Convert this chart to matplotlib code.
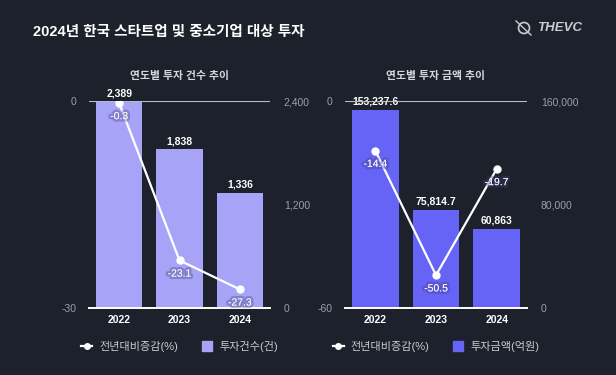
import matplotlib.pyplot as plt
import matplotlib.patheffects as pe
from matplotlib.lines import Line2D
from matplotlib.patches import Ellipse

plt.rcParams['font.family'] = ['Liberation Sans', 'Noto Sans CJK KR']
plt.rcParams['axes.unicode_minus'] = False

years = ['2022', '2023', '2024']
count = [2389, 1838, 1336]
count_chg = [-0.3, -23.1, -27.3]
amount = [153237.6, 75814.7, 60863]
amount_chg = [-14.4, -50.5, -19.7]

BG = '#1c212b'
TICK = '#9a9fa8'


def fmt(v):
    return f"{v:,.0f}" if float(v).is_integer() else f"{v:,.1f}"


def panel(rect, title, bars, chg, bar_color, bar_lim, bar_ticks, chg_lim, bar_name):
    ax = fig.add_axes(rect)
    axb = ax.twinx()
    ax.set_zorder(axb.get_zorder() + 1)
    ax.patch.set_visible(False)
    axb.set_facecolor(BG)
    x = range(len(years))

    axb.bar(x, bars, width=0.77, color=bar_color, zorder=2)
    for i, v in enumerate(bars):
        axb.annotate(fmt(v), (i, v), xytext=(0, 2.5), textcoords='offset points',
                     ha='center', va='bottom', color='white', fontsize=7.5,
                     fontweight='bold')
    axb.set_ylim(*bar_lim)
    axb.set_yticks(bar_ticks)
    axb.set_yticklabels([f"{t:,}" for t in bar_ticks])

    ax.plot(x, chg, color='white', lw=1.6, marker='o', ms=5, zorder=3)
    for i, v in enumerate(chg):
        ax.annotate(f"{v}", (i, v), xytext=(0, -9.5), textcoords='offset points',
                    ha='center', va='center', color='white', fontsize=7.5,
                    path_effects=[pe.withStroke(linewidth=3.5, foreground=(0.25, 0.24, 0.5, 0.35))])
    ax.set_ylim(*chg_lim)
    ax.set_yticks([chg_lim[0], 0])
    ax.set_xlim(-0.5, 2.5)
    ax.set_xticks(list(x))
    ax.set_xticklabels(years, color='white', fontsize=7.5, fontweight='bold')
    ax.axhline(0, color='#b8bcc4', lw=0.8, zorder=1)

    for a in (ax, axb):
        for s in a.spines.values():
            s.set_visible(False)
        a.tick_params(length=0, colors=TICK, labelsize=7.5)
    ax.tick_params(axis='y', pad=9)
    axb.tick_params(axis='y', pad=10)
    ax.tick_params(axis='x', pad=5, colors='white')
    ax.spines['bottom'].set_visible(True)
    ax.spines['bottom'].set_color('white')
    ax.spines['bottom'].set_linewidth(1.4)

    ax.set_title(title, color='#d4d7dc', fontsize=7.8, fontweight='bold', pad=16)

    handles = [
        Line2D([], [], color='white', lw=1.6, marker='o', ms=4),
        Line2D([], [], color=bar_color, lw=0, marker='s', ms=7),
    ]
    ax.legend(handles, ['전년대비증감(%)', bar_name], loc='upper center',
              bbox_to_anchor=(0.5, -0.11), ncol=2, frameon=False,
              fontsize=8, labelcolor='#c8ccd2', handlelength=1.0,
              handletextpad=0.6, columnspacing=2.1)
    return ax


fig = plt.figure(figsize=(6.16, 3.75), dpi=100, facecolor=BG)

panel([89 / 616, 1 - 308 / 375, 181 / 616, 207 / 375], '연도별 투자 건수 추이',
      count, count_chg, '#a7a4f8', (0, 2400), [0, 1200, 2400], (-30, 0), '투자건수(건)')
panel([345 / 616, 1 - 308 / 375, 182 / 616, 207 / 375], '연도별 투자 금액 추이',
      amount, amount_chg, '#6663f7', (0, 160000), [0, 80000, 160000], (-60, 0), '투자금액(억원)')

fig.text(33 / 616, 1 - 32 / 375, '2024년 한국 스타트업 및 중소기업 대상 투자',
         color='white', fontsize=10.5, fontweight='bold', va='center')

# logo
fig.patches.append(Ellipse((524 / 616, 1 - 28 / 375), 11 / 616, 11 / 375, fill=False,
                           ec='#c9ccd2', lw=1.2, transform=fig.transFigure))
fig.lines.append(Line2D([516 / 616, 531 / 616], [1 - 21 / 375, 1 - 35 / 375],
                        color='#c9ccd2', lw=1.0, transform=fig.transFigure))
fig.text(537 / 616, 1 - 28 / 375, 'THEVC', color='#c9ccd2', fontsize=9.5,
         fontweight='bold', fontstyle='italic', va='center')

fig.savefig('out.png', dpi=100, facecolor=BG)
